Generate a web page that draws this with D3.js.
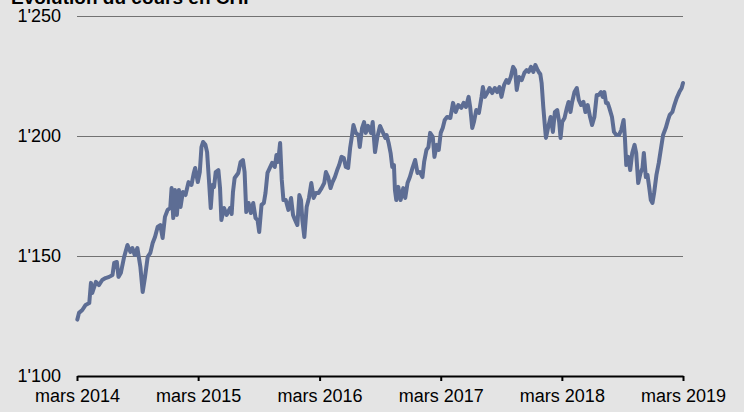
<!DOCTYPE html>
<html>
<head>
<meta charset="utf-8">
<script src="https://cdn.jsdelivr.net/npm/d3@7"></script>
<style>
  html, body { margin: 0; padding: 0; background: #e4e4e4; }
  svg { display: block; font-family: "Liberation Sans", Arial, Helvetica, sans-serif; }
</style>
</head>
<body>
<svg id="chart" width="744" height="412"></svg>
<script>
// Cours de clôture (CHF), mars 2014 – mars 2019
const dates = [
  "2014-03-02","2014-03-07","2014-03-17","2014-03-27","2014-04-07","2014-04-12","2014-04-16","2014-04-27",
  "2014-05-06","2014-05-16","2014-05-26","2014-06-06","2014-06-16","2014-06-21","2014-06-29","2014-07-04",
  "2014-07-11","2014-07-21","2014-07-31","2014-08-09","2014-08-15","2014-08-22","2014-08-30","2014-09-08",
  "2014-09-15","2014-09-22","2014-09-30","2014-10-08","2014-10-15","2014-10-22","2014-10-30","2014-11-07",
  "2014-11-14","2014-11-21","2014-11-29","2014-12-07","2014-12-11","2014-12-16","2014-12-21","2014-12-27",
  "2015-01-02","2015-01-07","2015-01-14","2015-01-22","2015-01-31","2015-02-09","2015-02-16","2015-02-20",
  "2015-02-28","2015-03-06","2015-03-11","2015-03-16","2015-03-23","2015-03-28","2015-04-03","2015-04-08",
  "2015-04-13","2015-04-18","2015-04-23","2015-05-01","2015-05-06","2015-05-10","2015-05-18","2015-05-26",
  "2015-06-05","2015-06-10","2015-06-14","2015-06-19","2015-06-30","2015-07-07","2015-07-14","2015-07-19",
  "2015-07-24","2015-07-31","2015-08-07","2015-08-14","2015-08-21","2015-08-27","2015-09-01","2015-09-08",
  "2015-09-15","2015-09-20","2015-09-26","2015-10-03","2015-10-10","2015-10-18","2015-10-23","2015-10-28",
  "2015-11-03","2015-11-08","2015-11-13","2015-11-20","2015-11-28","2015-12-06","2015-12-12","2015-12-18",
  "2015-12-25","2015-12-31","2016-01-05","2016-01-09","2016-01-15","2016-01-22","2016-01-29","2016-02-05",
  "2016-02-12","2016-02-19","2016-02-27","2016-03-07","2016-03-15","2016-03-20","2016-03-27","2016-04-03",
  "2016-04-09","2016-04-16","2016-04-23","2016-04-29","2016-05-06","2016-05-13","2016-05-19","2016-05-26",
  "2016-06-01","2016-06-06","2016-06-11","2016-06-18","2016-06-26","2016-06-30","2016-07-07","2016-07-13",
  "2016-07-18","2016-07-25","2016-08-03","2016-08-08","2016-08-15","2016-08-22","2016-08-30","2016-09-07",
  "2016-09-15","2016-09-19","2016-09-25","2016-10-01","2016-10-06","2016-10-11","2016-10-14","2016-10-18",
  "2016-10-24","2016-10-31","2016-11-08","2016-11-14","2016-11-21","2016-11-28","2016-12-06","2016-12-14",
  "2016-12-21","2016-12-28","2017-01-05","2017-01-10","2017-01-17","2017-01-23","2017-01-28","2017-02-05",
  "2017-02-10","2017-02-17","2017-02-23","2017-03-01","2017-03-07","2017-03-13","2017-03-20","2017-03-30",
  "2017-04-07","2017-04-15","2017-04-23","2017-05-02","2017-05-09","2017-05-16","2017-05-24","2017-05-29",
  "2017-06-04","2017-06-09","2017-06-16","2017-06-24","2017-07-02","2017-07-06","2017-07-12","2017-07-19",
  "2017-07-26","2017-08-03","2017-08-11","2017-08-18","2017-08-25","2017-08-31","2017-09-08","2017-09-15",
  "2017-09-21","2017-09-28","2017-10-05","2017-10-11","2017-10-16","2017-10-23","2017-10-31","2017-11-08",
  "2017-11-15","2017-11-21","2017-11-28","2017-12-05","2017-12-11","2017-12-18","2017-12-23","2017-12-26",
  "2017-12-30","2018-01-04","2018-01-09","2018-01-12","2018-01-19","2018-01-26","2018-02-02","2018-02-08",
  "2018-02-15","2018-02-21","2018-02-25","2018-03-02","2018-03-09","2018-03-16","2018-03-21","2018-03-27",
  "2018-04-01","2018-04-08","2018-04-15","2018-04-21","2018-04-28","2018-05-05","2018-05-11","2018-05-18",
  "2018-05-25","2018-05-31","2018-06-07","2018-06-14","2018-06-20","2018-06-27","2018-07-02","2018-07-07",
  "2018-07-12","2018-07-17","2018-07-22","2018-07-30","2018-08-05","2018-08-12","2018-08-20","2018-08-27",
  "2018-09-03","2018-09-07","2018-09-11","2018-09-17","2018-09-23","2018-09-29","2018-10-06","2018-10-11",
  "2018-10-17","2018-10-24","2018-10-30","2018-11-03","2018-11-09","2018-11-14","2018-11-19","2018-11-24",
  "2018-11-29","2018-12-04","2018-12-11","2018-12-18","2018-12-24","2018-12-31","2019-01-08","2019-01-15",
  "2019-01-20","2019-01-28","2019-02-03","2019-02-10","2019-02-18","2019-02-25","2019-03-01"
];

const closes = [
  1123.5,1126.3,1127.5,1129.6,1130.4,1138.8,1134.6,1139.2,
  1137.9,1140.0,1140.8,1141.3,1142.1,1147.1,1147.5,1141.3,
  1142.9,1149.6,1154.6,1151.7,1153.3,1150.4,1153.3,1145.4,
  1135.0,1141.3,1149.6,1151.3,1155.4,1157.9,1162.1,1162.9,
  1157.5,1166.3,1169.2,1170.0,1178.3,1165.8,1177.5,1167.1,
  1177.5,1170.4,1176.7,1175.4,1180.8,1179.6,1184.6,1186.7,
  1180.8,1185.0,1195.4,1197.5,1196.3,1193.3,1180.8,1170.0,
  1179.6,1178.8,1185.0,1185.8,1178.3,1165.0,1170.0,1167.1,
  1170.0,1167.5,1176.7,1182.5,1184.6,1189.2,1190.0,1185.0,
  1168.3,1172.1,1167.9,1172.1,1165.8,1165.0,1160.0,1171.3,
  1172.1,1176.3,1184.6,1186.7,1188.8,1187.1,1192.1,1189.2,
  1197.1,1181.7,1173.3,1173.3,1169.2,1174.2,1167.1,1165.0,
  1162.9,1175.4,1173.3,1165.0,1157.9,1170.4,1174.2,1180.4,
  1174.2,1176.3,1176.3,1178.3,1180.4,1185.0,1182.9,1178.3,
  1180.8,1182.9,1185.8,1187.9,1191.3,1190.8,1187.1,1186.7,
  1195.0,1199.6,1204.6,1201.3,1200.4,1195.4,1203.3,1205.8,
  1201.3,1204.2,1201.3,1205.8,1193.3,1199.6,1204.2,1201.7,
  1199.2,1200.4,1197.1,1192.9,1187.1,1187.9,1177.5,1173.3,
  1178.8,1173.3,1178.3,1174.2,1180.4,1182.9,1186.7,1190.0,
  1184.6,1185.0,1182.9,1189.2,1194.2,1195.4,1201.3,1199.6,
  1191.3,1196.3,1194.2,1201.3,1203.3,1206.7,1207.9,1207.5,
  1213.8,1210.0,1212.9,1211.7,1213.8,1212.1,1216.3,1211.7,
  1203.3,1205.8,1210.8,1209.6,1216.3,1220.4,1216.3,1217.9,
  1220.0,1217.9,1220.0,1218.3,1220.4,1216.3,1221.3,1223.3,
  1222.1,1224.6,1228.8,1227.5,1219.2,1224.6,1223.3,1226.3,
  1227.5,1226.7,1228.8,1226.7,1229.6,1227.5,1226.3,1225.8,
  1222.1,1212.1,1203.8,1199.2,1203.8,1207.9,1201.7,1210.0,
  1210.8,1205.8,1199.2,1205.8,1207.5,1211.7,1214.2,1210.0,
  1214.2,1218.3,1220.0,1215.0,1212.9,1214.2,1210.0,1212.9,
  1207.9,1204.6,1207.9,1217.1,1217.1,1218.3,1216.3,1218.3,
  1213.8,1213.8,1211.7,1207.9,1201.7,1200.4,1200.4,1202.5,
  1206.7,1199.2,1187.9,1191.3,1185.8,1192.9,1196.3,1192.9,
  1180.4,1184.6,1186.7,1192.9,1182.9,1183.8,1178.8,1173.3,
  1172.1,1176.3,1183.8,1188.8,1194.2,1200.4,1203.3,1206.7,
  1208.8,1210.0,1212.9,1215.8,1218.3,1220.0,1222.1
];

const yTicks = [1100, 1150, 1200, 1250];
const yTickLabels = ["1'100", "1'150", "1'200", "1'250"];
const xTicks = ["2014-03-01", "2015-03-01", "2016-03-01", "2017-03-01", "2018-03-01", "2019-03-01"];
const xTickLabels = ["mars 2014", "mars 2015", "mars 2016", "mars 2017", "mars 2018", "mars 2019"];
const title = "Evolution du cours en CHF";

const parse = d3.timeParse("%Y-%m-%d");
const series = dates.map((d, i) => ({ date: parse(d), value: closes[i] }));
const xTickDates = xTicks.map(parse);

const svg = d3.select("#chart");
const plotLeft = 77, plotRight = 683, plotTop = 16, plotBottom = 376;

const x = d3.scaleTime()
  .domain([xTickDates[0], xTickDates[xTickDates.length - 1]])
  .range([plotLeft, plotRight]);
const y = d3.scaleLinear()
  .domain([1100, 1250])
  .range([plotBottom, plotTop]);

// title (sits partly above the frame)
svg.append("text")
  .attr("x", 11).attr("y", 4)
  .attr("font-size", 19).attr("font-weight", "bold")
  .attr("fill", "#000")
  .text(title);

// horizontal grid lines
svg.append("g")
  .selectAll("line")
  .data(yTicks.filter(v => v > 1100))
  .join("line")
  .attr("x1", plotLeft).attr("x2", plotRight)
  .attr("y1", d => y(d)).attr("y2", d => y(d))
  .attr("stroke", "#727272").attr("stroke-width", 1)
  .attr("shape-rendering", "crispEdges");

// y axis labels
const yAxis = d3.axisLeft(y)
  .tickValues(yTicks)
  .tickSize(0)
  .tickPadding(0)
  .tickFormat((d, i) => yTickLabels[i]);
const gy = svg.append("g").attr("transform", "translate(61,0)").call(yAxis);
gy.select(".domain").remove();
gy.selectAll("text")
  .attr("font-size", 18)
  .attr("font-family", '"Liberation Sans", Arial, sans-serif')
  .attr("fill", "#000");

// x axis
const xAxis = d3.axisBottom(x)
  .tickValues(xTickDates)
  .tickSize(5)
  .tickSizeOuter(0)
  .tickPadding(8)
  .tickFormat((d, i) => xTickLabels[i]);
const gx = svg.append("g").attr("transform", `translate(0,${plotBottom})`).call(xAxis);
gx.select(".domain").attr("stroke", "#000").attr("stroke-width", 2);
gx.selectAll(".tick line").attr("stroke", "#000").attr("stroke-width", 2);
gx.selectAll("text")
  .attr("font-size", 18)
  .attr("font-family", '"Liberation Sans", Arial, sans-serif')
  .attr("fill", "#000");

// price line
const line = d3.line()
  .x(d => x(d.date))
  .y(d => y(d.value));
svg.append("path")
  .datum(series)
  .attr("d", line)
  .attr("fill", "none")
  .attr("stroke", "#5d6d94")
  .attr("stroke-width", 4)
  .attr("stroke-linejoin", "round")
  .attr("stroke-linecap", "round");
</script>
</body>
</html>
